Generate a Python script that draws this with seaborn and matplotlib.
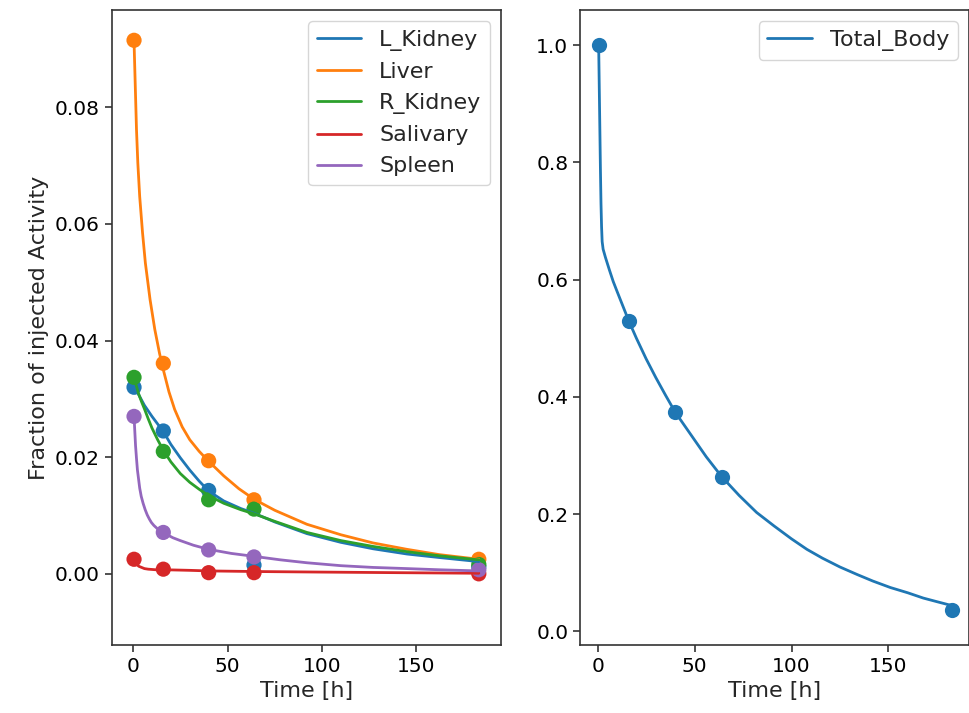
import numpy as np
import pandas as pd
import matplotlib
matplotlib.use("Agg")
import matplotlib.pyplot as plt
import seaborn as sns

# measured time points [h]
times = [0.5, 16, 40, 64, 183]

# measured fractions of injected activity per organ
organs = ["L_Kidney", "Liver", "R_Kidney", "Salivary", "Spleen"]
l_kidney_pts = [0.0320, 0.0245, 0.0143, 0.0015, 0.0012]
liver_pts = [0.0915, 0.0361, 0.0194, 0.0127, 0.0025]
r_kidney_pts = [0.0337, 0.0210, 0.0127, 0.0111, 0.0016]
salivary_pts = [0.0025, 0.0008, 0.0002, 0.0002, 0.0000]
spleen_pts = [0.0270, 0.0071, 0.0041, 0.0029, 0.0007]

# fitted curves
l_kidney_t = [0.5, 3, 6, 10, 13, 16, 20, 25, 30, 35, 40, 48, 57, 64, 75, 92, 110, 127, 145, 162, 183]
l_kidney_fit = [0.0321, 0.0307, 0.0289, 0.0270, 0.0257, 0.0244, 0.0222, 0.0199, 0.0178, 0.0159, 0.0142,
                0.0125, 0.0112, 0.0104, 0.0089, 0.0069, 0.0054, 0.0043, 0.0034, 0.0028, 0.0021]
liver_t = [0.5, 1, 1.8, 2.5, 3.5, 5, 6.5, 9, 11.5, 14, 16, 19, 22, 26, 30, 35, 40, 48, 56, 64,
           75, 92, 110, 127, 145, 162, 183]
liver_fit = [0.0913, 0.0855, 0.0762, 0.0705, 0.0647, 0.0585, 0.0533, 0.0470, 0.0419, 0.0378, 0.0350,
             0.0312, 0.0282, 0.0252, 0.0230, 0.0210, 0.0193, 0.0168, 0.0146, 0.0128, 0.0109, 0.0085,
             0.0067, 0.0053, 0.0042, 0.0033, 0.0025]
r_kidney_t = [0.5, 1.5, 3, 4.5, 6, 8, 10, 13, 16, 20, 25, 30, 35, 40, 48, 57, 64, 75, 92, 110, 127,
              145, 162, 183]
r_kidney_fit = [0.0336, 0.0325, 0.0308, 0.0295, 0.0283, 0.0266, 0.0250, 0.0230, 0.0212, 0.0192,
                0.0172, 0.0157, 0.0145, 0.0134, 0.0121, 0.0110, 0.0103, 0.0090, 0.0071, 0.0057,
                0.0047, 0.0038, 0.0031, 0.0024]
salivary_t = [0.5, 1.2, 2, 3, 4.5, 6, 8, 12, 17, 30, 40, 64, 100, 140, 183]
salivary_fit = [0.0024, 0.0019, 0.0016, 0.0013, 0.0011, 0.0009, 0.0008, 0.0007, 0.0007, 0.0006,
                0.0005, 0.0004, 0.0003, 0.0002, 0.0001]
spleen_t = [0.5, 0.9, 1.3, 1.8, 2.3, 3, 3.5, 4.3, 5.3, 6.4, 7.5, 8.6, 9.7, 11, 13, 15, 17, 21, 25,
            32, 40, 52, 64, 78, 92, 110, 127, 145, 162, 183]
spleen_fit = [0.0270, 0.0245, 0.0220, 0.0198, 0.0178, 0.0160, 0.0147, 0.0133, 0.0121, 0.0110,
              0.0101, 0.0094, 0.0088, 0.0083, 0.0077, 0.0072, 0.0069, 0.0062, 0.0057, 0.0049,
              0.0042, 0.0035, 0.0030, 0.0024, 0.0019, 0.0014, 0.0011, 0.0009, 0.0007, 0.0005]

total_pts = [1.0, 0.530, 0.374, 0.264, 0.037]
total_t = [0.5, 0.8, 1.1, 1.4, 1.7, 2.0, 2.3, 2.8, 4, 6, 8, 10, 13, 16, 20, 25, 30, 35, 40, 48, 56,
           64, 73, 82, 91, 100, 108, 116, 125, 134, 142, 151, 160, 168, 176, 183]
total_fit = [1.0, 0.93, 0.86, 0.79, 0.73, 0.69, 0.665, 0.652, 0.638, 0.617, 0.597, 0.580, 0.555,
             0.530, 0.500, 0.465, 0.433, 0.403, 0.374, 0.336, 0.298, 0.264, 0.232, 0.203, 0.180,
             0.158, 0.140, 0.125, 0.110, 0.097, 0.086, 0.075, 0.066, 0.057, 0.050, 0.044]

pts = [l_kidney_pts, liver_pts, r_kidney_pts, salivary_pts, spleen_pts]
fit_t = [l_kidney_t, liver_t, r_kidney_t, salivary_t, spleen_t]
fits = [l_kidney_fit, liver_fit, r_kidney_fit, salivary_fit, spleen_fit]

sns.set_style("ticks")
plt.rcParams["font.family"] = ["DejaVu Sans"]
plt.rcParams["font.size"] = 14.5
plt.rcParams["axes.labelsize"] = 16
plt.rcParams["axes.edgecolor"] = "#333333"
plt.rcParams["xtick.color"] = "#333333"
plt.rcParams["ytick.color"] = "#333333"
plt.rcParams["xtick.labelcolor"] = "black"
plt.rcParams["ytick.labelcolor"] = "black"

pal = sns.color_palette("tab10", 5)

fig = plt.figure(figsize=(9.7, 7.13), dpi=100)
ax1 = fig.add_axes([0.115, 0.0954, 0.402, 0.8906])
ax2 = fig.add_axes([0.598, 0.0954, 0.401, 0.8906])

df_pts = pd.DataFrame({
    "t": np.concatenate([times] * 5),
    "y": np.concatenate(pts),
    "organ": np.repeat(organs, len(times)),
})
df_fit = pd.concat([
    pd.DataFrame({"t": tt, "y": yy, "organ": o}) for tt, yy, o in zip(fit_t, fits, organs)
])

sns.scatterplot(data=df_pts, x="t", y="y", hue="organ", hue_order=organs, palette=pal,
                s=120, linewidth=0, legend=False, ax=ax1, zorder=2)
sns.lineplot(data=df_fit, x="t", y="y", hue="organ", hue_order=organs, palette=pal,
             lw=2, sort=True, estimator=None, ax=ax1, zorder=2)
ax1.set_xlim(-11.4, 195)
ax1.set_ylim(-0.0122, 0.0967)
ax1.set_xticks([0, 50, 100, 150])
ax1.set_yticks([0.0, 0.02, 0.04, 0.06, 0.08])
ax1.set_yticklabels(["0.00", "0.02", "0.04", "0.06", "0.08"])
ax1.set_xlabel("Time [h]")
ax1.set_ylabel("Fraction of injected Activity")
leg = ax1.legend(loc="upper right", frameon=True, fontsize=16)
leg.get_frame().set_edgecolor("#cccccc")

df_tot_pts = pd.DataFrame({"t": times, "y": total_pts})
df_tot_fit = pd.DataFrame({"t": total_t, "y": total_fit})
sns.scatterplot(data=df_tot_pts, x="t", y="y", color=pal[0], s=120, linewidth=0, ax=ax2, zorder=2)
sns.lineplot(data=df_tot_fit, x="t", y="y", color=pal[0], lw=2, estimator=None,
             label="Total_Body", ax=ax2, zorder=2)
ax2.set_xlim(-9.1, 191.6)
ax2.set_ylim(-0.023, 1.06)
ax2.set_xticks([0, 50, 100, 150])
ax2.set_yticks([0.0, 0.2, 0.4, 0.6, 0.8, 1.0])
ax2.set_xlabel("Time [h]")
ax2.set_ylabel("")
leg2 = ax2.legend(loc="upper right", frameon=True, fontsize=16)
leg2.get_frame().set_edgecolor("#cccccc")

for ax in (ax1, ax2):
    ax.tick_params(length=5, width=1.2)
    for sp in ax.spines.values():
        sp.set_linewidth(1.2)

fig.savefig("out.png", dpi=100)
